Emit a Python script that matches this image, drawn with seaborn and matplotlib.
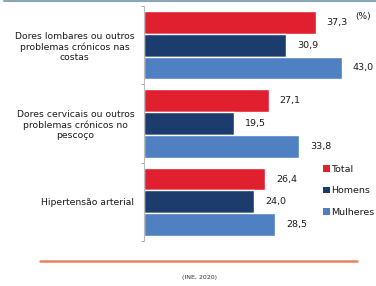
import matplotlib
matplotlib.use("Agg")
import matplotlib.pyplot as plt
import seaborn as sns
import pandas as pd
from matplotlib.lines import Line2D
from matplotlib.patches import Patch

categories = [
    "Dores lombares ou outros\nproblemas crónicos nas\ncostas",
    "Dores cervicais ou outros\nproblemas crónicos no\npescoço",
    "Hipertensão arterial",
]
series = ["Total", "Homens", "Mulheres"]
total = [37.3, 27.1, 26.4]
homens = [30.9, 19.5, 24.0]
mulheres = [43.0, 33.8, 28.5]
colors = ["#E0202F", "#1D3C6E", "#4F81C2"]
source = "(INE, 2020)"
unit = "(%)"

rows = []
for s, vals in zip(series, [total, homens, mulheres]):
    for c, v in zip(categories, vals):
        rows.append({"cat": c, "serie": s, "val": v})
df = pd.DataFrame(rows)

sns.set_theme(style="white")
plt.rcParams["font.family"] = ["DejaVu Sans"]

W, H = 376, 286
fig = plt.figure(figsize=(W / 100, H / 100), dpi=100)
fig.patch.set_facecolor("white")
ax = fig.add_axes([144 / W, 1 - 241 / H, (355 - 144) / W, (241 - 6) / H])

sns.barplot(data=df, y="cat", x="val", hue="serie", order=categories,
            hue_order=series, palette=colors, orient="h", width=0.87,
            gap=0, saturation=1, ax=ax, legend=False, errorbar=None)

ax.set_xlim(0, (355 - 144) / 4.6)
ax.set_ylim(2.5, -0.5)
ax.set_xlabel("")
ax.set_ylabel("")
ax.set_xticks([])
for sp in ["top", "right", "bottom"]:
    ax.spines[sp].set_visible(False)
ax.spines["left"].set_color("#BBBBBB")
ax.spines["left"].set_linewidth(0.8)

ax.set_yticks(range(len(categories)))
ax.set_yticklabels(categories, fontsize=6.7, color="#1a1a1a", multialignment="center")
ax.tick_params(axis="y", which="major", length=0, pad=7)
ax.set_yticks([-0.5, 0.5, 1.5, 2.5], minor=True)
ax.tick_params(axis="y", which="minor", length=2.5, color="#999999", width=0.6, left=True)

for cont in ax.containers:
    labels = [f"{b.get_width():.1f}".replace(".", ",") for b in cont]
    ax.bar_label(cont, labels=labels, padding=8, fontsize=6.8, color="#1a1a1a")

fig.text(355 / W, 1 - 17 / H, unit, fontsize=6.5, color="#1a1a1a", va="center")

handles = [Patch(facecolor=c, edgecolor="none") for c in colors]
fig.legend(handles, series, loc="upper left", bbox_to_anchor=(323 / W, 1 - 165 / H),
           frameon=False, fontsize=6.8, handlelength=0.7, handleheight=0.7,
           handletextpad=0.2, labelspacing=1.3, borderpad=0, borderaxespad=0,
           labelcolor="#1a1a1a")

fig.add_artist(Line2D([4 / W, 1], [1 - 1 / H, 1 - 1 / H], color="#8AA5B8", lw=1.5,
                      transform=fig.transFigure))
fig.add_artist(Line2D([40 / W, 357 / W], [1 - 261 / H, 1 - 261 / H], color="#E8845A",
                      lw=1.8, transform=fig.transFigure))
fig.text(199 / W, 1 - 278 / H, source, fontsize=4.5, color="#333333",
         ha="center", va="center")

fig.savefig("out.png", dpi=100)
